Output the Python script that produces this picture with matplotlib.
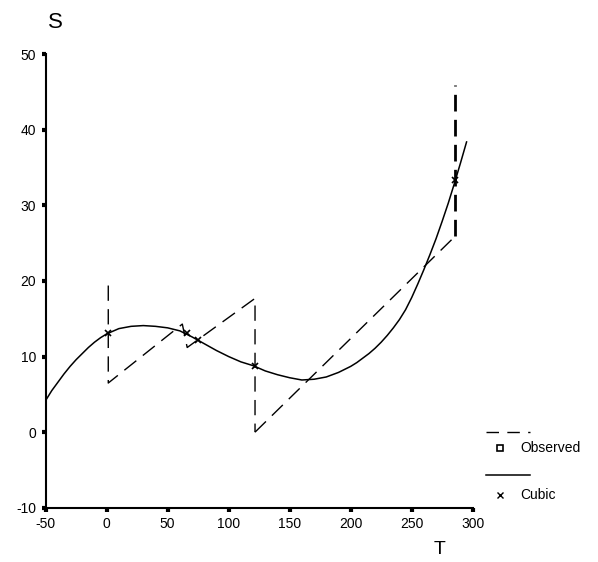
import numpy as np
import matplotlib
matplotlib.use("Agg")
import matplotlib.pyplot as plt
from matplotlib.lines import Line2D

plt.rcParams['font.family'] = ['Liberation Sans', 'DejaVu Sans']

# Observed (dashed path)
obs_t = [1.3, 1.3, 62, 66, 121.6, 121.6, 285.5, 285.5]
obs_s = [19.4, 6.5, 14.3, 11.2, 17.7, 0.0, 25.9, 45.9]

# Cubic fit curve
cub_t = [-50, -45, -40, -35, -30, -25, -20, -15, -10, -5, 0, 10, 20, 30, 40,
         50, 60, 70, 80, 90, 100, 110, 120, 130, 140, 150, 160, 170, 180, 190,
         200, 205, 210, 215, 220, 225, 230, 235, 240, 245, 250, 255, 260, 265,
         270, 275, 280, 285, 290, 295]
cub_s = [4.2, 5.5, 6.6, 7.7, 8.7, 9.6, 10.4, 11.2, 11.9, 12.5, 13.0, 13.7,
         14.0, 14.1, 14.0, 13.8, 13.4, 12.6, 11.7, 10.8, 10.0, 9.3, 8.8, 8.1,
         7.6, 7.2, 6.9, 7.0, 7.3, 7.9, 8.7, 9.2, 9.8, 10.4, 11.1, 11.9, 12.8,
         13.8, 14.9, 16.2, 17.8, 19.6, 21.5, 23.5, 25.6, 27.9, 30.3, 32.9,
         35.6, 38.4]

# Cubic predicted at observed T
pred_t = [1.3, 65.6, 75, 121.6, 285.5]
pred_s = [13.1, 13.1, 12.2, 8.8, 33.3]

x_ticks = [-50, 0, 50, 100, 150, 200, 250, 300]
y_ticks = [-10, 0, 10, 20, 30, 40, 50]

fig = plt.figure(figsize=(5.98, 5.62), dpi=100)
ax = fig.add_axes([0.0764, 0.0966, 0.714, 0.8068])

# observed dashed path
ax.plot(obs_t[:6], obs_s[:6], color='black', lw=1.0, dashes=(11, 6))
ax.plot(obs_t[5:7], obs_s[5:7], color='black', lw=1.0, dashes=(11, 6))
ax.plot(obs_t[6:], obs_s[6:], color='black', lw=2.0, dashes=(6, 3))

# cubic
ax.plot(cub_t, cub_s, color='black', lw=1.1)
ax.plot(pred_t, pred_s, ls='none', marker='x', color='black', ms=5, mew=1.2)

ax.set_xlim(-50, 300)
ax.set_ylim(-10, 50)
ax.set_xticks(x_ticks)
ax.set_xticklabels([str(v) for v in x_ticks])
ax.set_yticks(y_ticks)
ax.set_yticklabels([str(v) for v in y_ticks])
for sp in ['top', 'right']:
    ax.spines[sp].set_visible(False)
for sp in ['left', 'bottom']:
    ax.spines[sp].set_linewidth(1.5)
ax.tick_params(direction='out', length=3, width=3, labelsize=10, pad=4)

fig.text(48 / 598, 1 - 22 / 562, 'S', fontsize=16, ha='left', va='center')
fig.text(440 / 598, 1 - 549 / 562, 'T', fontsize=14, ha='center', va='center')

# legend
fig.add_artist(Line2D([486 / 598, 530 / 598], [1 - 431.7 / 562] * 2,
                      color='black', lw=1.0, dashes=(9, 6)))
fig.add_artist(Line2D([500 / 598], [1 - 448 / 562], marker='s', ms=5,
                      mfc='white', mec='black', mew=1.2, ls='none'))
fig.text(520 / 598, 1 - 448 / 562, 'Observed', fontsize=10, va='center')
fig.add_artist(Line2D([486 / 598, 530 / 598], [1 - 475 / 562] * 2,
                      color='black', lw=1.1))
fig.add_artist(Line2D([500 / 598], [1 - 495 / 562], marker='x', ms=4,
                      color='black', mew=1.0, ls='none'))
fig.text(520 / 598, 1 - 495 / 562, 'Cubic', fontsize=10, va='center')

fig.savefig('out.png', dpi=100)
